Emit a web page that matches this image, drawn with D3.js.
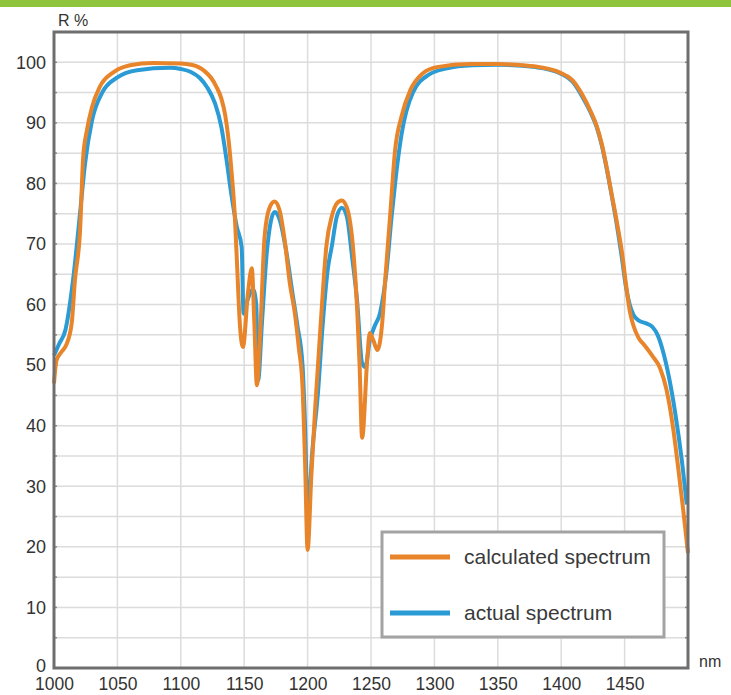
<!DOCTYPE html>
<html>
<head>
<meta charset="utf-8">
<script src="https://cdn.jsdelivr.net/npm/d3@7"></script>
<style>
  html, body { margin: 0; padding: 0; background: #ffffff; }
  svg { display: block; }
</style>
</head>
<body>
<div id="chart"></div>
<script>
// ---- data ----
const xTickLabels = [1000, 1050, 1100, 1150, 1200, 1250, 1300, 1350, 1400, 1450];
const yTickLabels = [0, 10, 20, 30, 40, 50, 60, 70, 80, 90, 100];
const seriesNames = ["calculated spectrum", "actual spectrum"];

const calcNm = [1000, 1002, 1006, 1010, 1014, 1016.5, 1020.5, 1023, 1026, 1030, 1036, 1046.5, 1060, 1078, 1100,
  1108, 1114, 1119, 1124, 1128, 1132, 1135, 1137.5, 1140, 1142.5, 1144.5, 1146.5, 1149, 1153, 1156, 1158, 1160, 1163, 1166, 1170, 1174,
  1178, 1182, 1186, 1190, 1193, 1196, 1198, 1200, 1203, 1206, 1210, 1215, 1219, 1223, 1227, 1231, 1236,
  1239, 1241, 1243, 1247, 1249, 1252, 1255, 1259, 1261, 1265, 1269, 1274, 1281, 1291, 1302, 1328, 1350,
  1370, 1383, 1399, 1409, 1417, 1423, 1428, 1432, 1436, 1440, 1444, 1448, 1451, 1454, 1457, 1461, 1466,
  1472, 1478, 1483, 1488, 1492, 1496, 1500];
const calcR = [47, 50.8, 52.2, 53.5, 57, 64, 72, 84.3, 88.8, 92.6, 95.9, 98.3, 99.5, 99.9, 99.8,
  99.6, 99.2, 98.5, 97.4, 96, 94, 91.3, 87.5, 82, 75, 66, 57, 53, 62, 66, 57, 46.7, 57, 71, 76, 77,
  75.5, 70.5, 63.5, 58.5, 53, 46.4, 34, 19.5, 32, 43, 55.8, 70, 74.5, 76.7, 77.2, 76, 69,
  59.6, 50, 38, 50.8, 55.3, 54, 52.5, 57.4, 63.5, 74.4, 85.5, 91, 95.4, 98.2, 99.2, 99.7, 99.7,
  99.5, 99.2, 98.3, 97, 94.5, 92, 89.5, 86.5, 82.5, 78, 73.5, 68.5, 63.5, 59, 56.5, 54.5, 53.2,
  51.5, 49.5, 46, 40, 33.5, 26.5, 19];

const actualNm = [1000, 1004, 1009, 1015, 1020.5, 1024.5, 1030, 1038, 1050, 1065.5, 1091.5, 1100, 1108,
  1115, 1121, 1127, 1132, 1136, 1140, 1144, 1148, 1149.5, 1153, 1157, 1159.5, 1161, 1164, 1168, 1174, 1178,
  1183, 1188, 1192, 1196, 1198, 1200, 1204, 1208, 1212, 1216, 1219, 1223, 1227, 1231, 1235, 1239, 1243,
  1245.5, 1249, 1253, 1257, 1262.5, 1266, 1269, 1274, 1283, 1296, 1310, 1330, 1350, 1380, 1399, 1409,
  1417, 1423, 1428, 1432, 1436, 1440, 1444, 1448, 1451, 1454, 1457, 1461, 1467, 1472, 1476, 1480,
  1485, 1490, 1495, 1499];
const actualR = [51.6, 53.5, 55.8, 64, 75, 83.3, 90.4, 95, 97.5, 98.7, 99.1, 98.9, 98.4,
  97.4, 95.8, 93.2, 89.3, 84, 78, 73, 69.5, 58.5, 61, 62.5, 60, 47.5, 57, 69, 75.3, 74,
  69, 62, 56.5, 50, 40, 26, 36.5, 45, 57, 66, 69.5, 74.5, 76, 74.5, 68, 60.7, 50.3,
  49.7, 54, 56.5, 58.5, 66, 74, 80, 88, 95, 98, 99, 99.5, 99.6, 99.2, 98.2, 96.8,
  94.2, 91.8, 89.3, 86.3, 82.3, 77.8, 73, 67.5, 63, 60, 58.3, 57.4, 56.9, 56.3, 55, 52.5,
  48, 42, 34.5, 27];

// ---- layout ----
const W = 731, H = 695;
const plot = { left: 54, right: 688, top: 32, bottom: 668 };
const FONT = "'Liberation Sans', Arial, sans-serif";

const svg = d3.select("#chart").append("svg")
  .attr("width", W).attr("height", H)
  .style("font-family", FONT);

svg.append("rect").attr("x", 0).attr("y", 0).attr("width", W).attr("height", H).attr("fill", "#ffffff");
// green banner at top
svg.append("rect").attr("x", 0).attr("y", 0).attr("width", W).attr("height", 7).attr("fill", "#8fc43d");

const x = d3.scaleLinear().domain([1000, 1500]).range([plot.left, plot.right]);
const y = d3.scaleLinear().domain([0, 105]).range([plot.bottom, plot.top]);

// grid
const grid = svg.append("g");
grid.selectAll("line.v").data(d3.range(1050, 1500, 50)).join("line")
  .attr("x1", d => x(d)).attr("x2", d => x(d))
  .attr("y1", plot.top).attr("y2", plot.bottom)
  .attr("stroke", "#dcdcdc").attr("stroke-width", 1.5);
grid.selectAll("line.h").data(d3.range(5, 105, 5)).join("line")
  .attr("y1", d => y(d)).attr("y2", d => y(d))
  .attr("x1", plot.left).attr("x2", plot.right)
  .attr("stroke", "#dcdcdc").attr("stroke-width", 1.5);

// small ticks on left and right frame
svg.append("g").selectAll("line").data(d3.range(5, 105, 5)).join("line")
  .attr("x1", plot.left).attr("x2", plot.left + 3)
  .attr("y1", d => y(d)).attr("y2", d => y(d))
  .attr("stroke", "#8a8a8a").attr("stroke-width", 1.5);
svg.append("g").selectAll("line").data(d3.range(5, 105, 5)).join("line")
  .attr("x1", plot.right - 3).attr("x2", plot.right)
  .attr("y1", d => y(d)).attr("y2", d => y(d))
  .attr("stroke", "#8a8a8a").attr("stroke-width", 1.5);

// lines
const line = d3.line().x(d => x(d[0])).y(d => y(d[1])).curve(d3.curveMonotoneX);
const actualData = actualNm.map((n, i) => [n, actualR[i]]);
const calcData = calcNm.map((n, i) => [n, calcR[i]]);

const orange = "#e8852b", blue = "#2b9bd6";
svg.append("path").datum(actualData).attr("d", line)
  .attr("fill", "none").attr("stroke", blue).attr("stroke-width", 4).attr("stroke-linejoin", "round");
svg.append("path").datum(calcData).attr("d", line)
  .attr("fill", "none").attr("stroke", orange).attr("stroke-width", 4).attr("stroke-linejoin", "round");

// frame
svg.append("rect")
  .attr("x", plot.left).attr("y", plot.top)
  .attr("width", plot.right - plot.left).attr("height", plot.bottom - plot.top)
  .attr("fill", "none").attr("stroke", "#6e6e6e").attr("stroke-width", 3);

// axis labels via d3 axes
const yAxis = d3.axisLeft(y).tickValues(yTickLabels).tickSize(0).tickPadding(8).tickFormat(d3.format("d"));
const yg = svg.append("g").attr("transform", `translate(${plot.left},0)`).call(yAxis);
yg.select(".domain").remove();
yg.selectAll("text").attr("font-size", 18).attr("fill", "#333333").attr("font-family", FONT);
// the "0" label sits just above the "1000" label
yg.selectAll(".tick").filter(d => d === 0).select("text").attr("dy", "0.17em");

const xAxis = d3.axisBottom(x).tickValues(xTickLabels).tickSize(0).tickPadding(10).tickFormat(d3.format("d"));
const xg = svg.append("g").attr("transform", `translate(0,${plot.bottom})`).call(xAxis);
xg.select(".domain").remove();
xg.selectAll("text").attr("font-size", 17.5).attr("fill", "#333333").attr("font-family", FONT);

svg.append("text").attr("x", 58).attr("y", 26).text("R %")
  .attr("font-size", 16).attr("fill", "#333333");
svg.append("text").attr("x", 699).attr("y", 667).text("nm")
  .attr("font-size", 16).attr("fill", "#333333");

// legend
const lg = svg.append("g");
lg.append("rect").attr("x", 382).attr("y", 532).attr("width", 282).attr("height", 105)
  .attr("fill", "#ffffff").attr("stroke", "#a3a3a3").attr("stroke-width", 3);
const legendItems = [
  { name: seriesNames[0], color: orange, cy: 557 },
  { name: seriesNames[1], color: blue, cy: 613 }
];
legendItems.forEach(it => {
  lg.append("line").attr("x1", 390).attr("x2", 450).attr("y1", it.cy).attr("y2", it.cy)
    .attr("stroke", it.color).attr("stroke-width", 5);
  lg.append("text").attr("x", 464).attr("y", it.cy).attr("dy", "0.35em")
    .text(it.name).attr("font-size", 21).attr("fill", "#3a3a3a");
});
</script>
</body>
</html>
